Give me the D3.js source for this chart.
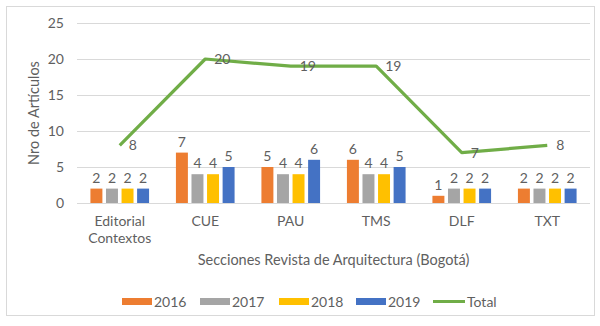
<!DOCTYPE html>
<html><head><meta charset="utf-8">
<script src="https://cdn.jsdelivr.net/npm/d3@7"></script>
<style>body{margin:0;background:#fff}svg{display:block}text{font-family:Lato,"Open Sans",sans-serif;fill:#5f5f5f}</style>
</head><body><svg id="c" width="600" height="326"></svg>
<script>
const categories = ["Editorial\nContextos","CUE","PAU","TMS","DLF","TXT"];
const years = ["2016","2017","2018","2019"];
const v2016 = [2,7,5,6,1,2];
const v2017 = [2,4,4,4,2,2];
const v2018 = [2,4,4,4,2,2];
const v2019 = [2,5,6,5,2,2];
const total = [8,20,19,19,7,8];
const yTicks = [0,5,10,15,20,25];
const colors = ["#ED7D31","#A5A5A5","#FFC000","#4472C4"];
const lineColor = "#70AD47";
const series = [v2016,v2017,v2018,v2019];

const svg = d3.select("#c");
svg.append("rect").attr("x",6.5).attr("y",6.5).attr("width",588).attr("height",309).attr("fill","#fff").attr("stroke","#D9D9D9").attr("stroke-width",1);

const x = d3.scaleBand().domain(d3.range(categories.length)).range([77,590]).padding(0);
const y = d3.scaleLinear().domain([0,25]).range([203,23]);

// gridlines
svg.append("g").selectAll("line").data(yTicks).join("line")
  .attr("x1",77).attr("x2",590).attr("y1",d=>Math.round(y(d))+0.5).attr("y2",d=>Math.round(y(d))+0.5)
  .attr("stroke","#D9D9D9").attr("stroke-width",1);

// y tick labels
svg.append("g").selectAll("text").data(yTicks).join("text")
  .attr("x",64).attr("y",d=>y(d)).attr("dy","0.35em").attr("text-anchor","end")
  .attr("font-size",14).text(d=>d);

// bars
const bw = x.bandwidth();
const barW = bw*0.14, step = bw*0.182;
const sub = d3.scaleLinear().domain([0,3]).range([-1.5*step,1.5*step]);
series.forEach((s,si)=>{
  const g = svg.append("g");
  g.selectAll("rect").data(s).join("rect")
    .attr("x",(d,i)=>x(i)+bw/2+sub(si)-barW/2).attr("width",barW)
    .attr("y",d=>y(d)).attr("height",d=>y(0)-y(d)).attr("fill",colors[si]);
  g.selectAll("text").data(s).join("text")
    .attr("x",(d,i)=>x(i)+bw/2+sub(si)).attr("y",d=>y(d)-6)
    .attr("text-anchor","middle").attr("font-size",14).text(d=>d);
});

// line
const line = d3.line().x((d,i)=>x(i)+bw/2).y(d=>y(d));
svg.append("path").datum(total).attr("d",line).attr("fill","none")
  .attr("stroke",lineColor).attr("stroke-width",3.2).attr("stroke-linejoin","round");
svg.append("g").selectAll("text").data(total).join("text")
  .attr("x",(d,i)=>x(i)+bw/2+9).attr("y",d=>y(d)).attr("dy","0.35em")
  .attr("font-size",14).text(d=>d);

// category labels
const cl = svg.append("g").selectAll("text").data(categories).join("text")
  .attr("text-anchor","middle").attr("font-size",14);
cl.each(function(d,i){
  const t = d3.select(this);
  d.split("\n").forEach((ln,k)=>{
    t.append("tspan").attr("x",x(i)+bw/2).attr("y",226+k*17).text(ln);
  });
});

// axis titles
svg.append("text").attr("x",333.5).attr("y",265).attr("text-anchor","middle").attr("font-size",14.5)
  .text("Secciones Revista de Arquitectura (Bogotá)");
svg.append("text").attr("transform","translate(39,113) rotate(-90)").attr("text-anchor","middle").attr("font-size",14.5)
  .text("Nro de Artículos");

// legend
const legX = [122,200,279,356];
const lg = svg.append("g");
years.forEach((yr,i)=>{
  lg.append("rect").attr("x",legX[i]).attr("y",298).attr("width",30).attr("height",7).attr("fill",colors[i]);
  lg.append("text").attr("x",legX[i]+32).attr("y",302).attr("dy","0.35em").attr("font-size",14).text(yr);
});
lg.append("line").attr("x1",433).attr("x2",465).attr("y1",301.5).attr("y2",301.5).attr("stroke",lineColor).attr("stroke-width",3);
lg.append("text").attr("x",467).attr("y",302).attr("dy","0.35em").attr("font-size",14).text("Total");
</script></body></html>
